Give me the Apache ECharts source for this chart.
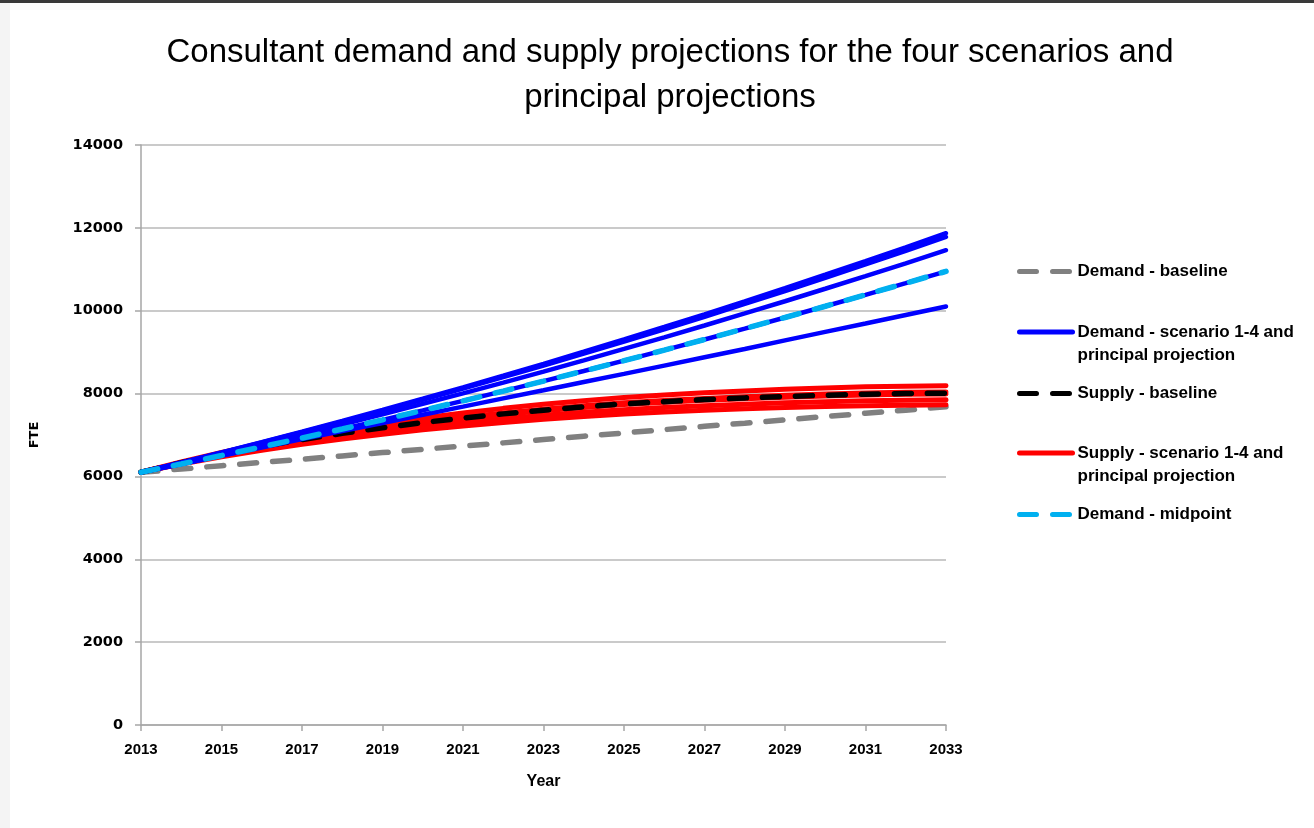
<!DOCTYPE html>
<html>
<head>
<meta charset="utf-8">
<style>
  html, body { margin: 0; padding: 0; background: #fff; }
  #topbar { position: absolute; left: 0; top: 0; width: 1314px; height: 3px; background: #3a3a3a; }
  #leftbar { position: absolute; left: 0; top: 3px; width: 10px; height: 825px; background: #f4f4f4; }
  #chart { position: absolute; left: 0; top: 0; width: 1314px; height: 828px; }
</style>
<script src="https://cdn.jsdelivr.net/npm/echarts@6/dist/echarts.min.js"></script>
</head>
<body>
<div id="topbar"></div>
<div id="leftbar"></div>
<div id="chart"></div>
<script>
const years = ['2013', '2014', '2015', '2016', '2017', '2018', '2019', '2020', '2021', '2022', '2023',
  '2024', '2025', '2026', '2027', '2028', '2029', '2030', '2031', '2032', '2033']

const demandBaseline = [6100, 6180, 6260, 6340, 6415, 6495, 6575, 6655, 6735, 6810, 6890,
  6970, 7050, 7130, 7210, 7285, 7365, 7445, 7525, 7600, 7680]

// scenarios 1-4 and principal projection
const demandScenarios = [
  [6100, 6338, 6581, 6829, 7083, 7342, 7606, 7876, 8151, 8432, 8717, 9009, 9305, 9607, 9914, 10227, 10545, 10868, 11197, 11531, 11870],
  [6100, 6334, 6573, 6818, 7067, 7323, 7582, 7848, 8119, 8395, 8676, 8963, 9255, 9552, 9854, 10163, 10475, 10794, 11117, 11446, 11780],
  [6100, 6321, 6546, 6777, 7013, 7254, 7499, 7750, 8005, 8266, 8531, 8802, 9077, 9358, 9643, 9934, 10229, 10530, 10835, 11145, 11460],
  [6100, 6300, 6504, 6713, 6926, 7144, 7366, 7593, 7824, 8060, 8300, 8545, 8794, 9048, 9306, 9569, 9836, 10108, 10384, 10665, 10950],
  [6100, 6300, 6500, 6700, 6900, 7095, 7290, 7490, 7685, 7885, 8080, 8280, 8475, 8675, 8875, 9075, 9285, 9490, 9690, 9895, 10100],
]

const supplyBaseline = [6100, 6330, 6540, 6725, 6890, 7040, 7175, 7300, 7410, 7510, 7600,
  7680, 7750, 7805, 7855, 7895, 7930, 7960, 7985, 8000, 8010]

const supplyScenarios = [
  [6100, 6352, 6581, 6784, 6964, 7128, 7276, 7413, 7533, 7643, 7741, 7829, 7905, 7965, 8020, 8064, 8102, 8135, 8162, 8179, 8190],
  [6100, 6334, 6547, 6735, 6903, 7055, 7192, 7319, 7431, 7533, 7624, 7705, 7776, 7832, 7883, 7924, 7959, 7990, 8015, 8030, 8040],
  [6100, 6328, 6536, 6719, 6882, 7031, 7165, 7288, 7397, 7496, 7585, 7664, 7734, 7788, 7837, 7877, 7912, 7941, 7966, 7981, 7990],
  [6100, 6311, 6503, 6673, 6824, 6961, 7086, 7199, 7300, 7392, 7474, 7547, 7612, 7662, 7708, 7744, 7776, 7804, 7827, 7840, 7850],
  [6100, 6296, 6475, 6633, 6774, 6902, 7017, 7124, 7217, 7303, 7380, 7448, 7508, 7554, 7597, 7631, 7661, 7687, 7708, 7721, 7730],
]

const demandMidpoint = [6100, 6300, 6504, 6713, 6926, 7144, 7366, 7593, 7824, 8060, 8300,
  8545, 8794, 9048, 9306, 9569, 9836, 10108, 10384, 10665, 10950]

const names = {
  demandBase: 'Demand - baseline',
  demandScen: 'Demand - scenario 1-4 and principal projection',
  supplyBase: 'Supply - baseline',
  supplyScen: 'Supply - scenario 1-4 and principal projection',
  demandMid: 'Demand - midpoint',
}

const legendOrder = [names.demandBase, names.demandScen, names.supplyBase, names.supplyScen, names.demandMid]
const legendTops = [260, 297.5, 382, 418.5, 503]

const sans = '"Liberation Sans", Arial, sans-serif'
const dash = [17, 16]

const lineSeries = (name, data, color, width, type) => ({
  name,
  type: 'line',
  data,
  symbol: 'none',
  silent: true,
  lineStyle: { color, width, type, cap: 'round' },
  itemStyle: { color },
  emphasis: { disabled: true },
})

const chart = echarts.init(document.getElementById('chart'))

chart.setOption({
  animation: false,
  title: {
    text: 'Consultant demand and supply projections for the four scenarios and\nprincipal projections',
    left: 665,
    textAlign: 'center',
    top: 25,
    textStyle: { fontFamily: sans, fontSize: 33, fontWeight: 'normal', color: '#000', lineHeight: 45 },
  },
  legend: legendOrder.map((n, i) => ({
    data: [n],
    left: 1017,
    top: legendTops[i],
    padding: 0,
    itemWidth: 53,
    itemHeight: 14,
    selectedMode: false,
    // a leading blank line keeps the icon level with the first line of text
    formatter: (nm) => (nm.indexOf('1-4 and ') >= 0 ? '\n' + nm.replace('1-4 and ', '1-4 and\n') : nm),
    itemStyle: { color: 'transparent', borderWidth: 0, opacity: 0 },
    lineStyle: { width: 5, cap: 'round' },
    textStyle: {
      fontFamily: sans,
      fontWeight: 'bold',
      fontSize: 17,
      color: '#000',
      lineHeight: 23,
    },
  })),
  grid: { left: 141, right: 368, top: 145, bottom: 103 },
  xAxis: {
    type: 'category',
    data: years,
    boundaryGap: false,
    name: 'Year',
    nameLocation: 'middle',
    nameGap: 49,
    nameTextStyle: { fontFamily: sans, fontWeight: 'bold', fontSize: 16, color: '#000' },
    axisLine: { lineStyle: { color: '#a6a6a6', width: 1.5 } },
    axisTick: { interval: 1, length: 6, lineStyle: { color: '#a6a6a6', width: 1.5 } },
    axisLabel: { interval: 1, margin: 17, fontFamily: sans, fontWeight: 'bold', fontSize: 15, color: '#000' },
    splitLine: { show: false },
  },
  yAxis: {
    type: 'value',
    min: 0,
    max: 14000,
    interval: 2000,
    name: 'FTE',
    nameLocation: 'middle',
    nameGap: 100,
    nameTextStyle: { fontFamily: '"DejaVu Sans", sans-serif', fontWeight: 'bold', fontSize: 13, color: '#000' },
    axisLine: { show: true, lineStyle: { color: '#a6a6a6', width: 1.5 } },
    axisTick: { show: true, length: 6, lineStyle: { color: '#a6a6a6', width: 1.5 } },
    axisLabel: {
      margin: 18,
      fontFamily: '"DejaVu Sans", sans-serif',
      fontWeight: 'bold',
      fontSize: 14.5,
      color: '#000',
      formatter: (v) => String(v),
    },
    splitLine: { lineStyle: { color: '#b8b8b8', width: 1.5 } },
  },
  series: [
    lineSeries(names.demandBase, demandBaseline, '#808080', 5.5, dash),
    ...supplyScenarios.map((d) => lineSeries(names.supplyScen, d, '#ff0000', 5, 'solid')),
    lineSeries(names.supplyBase, supplyBaseline, '#000000', 5.5, dash),
    ...demandScenarios.map((d) => lineSeries(names.demandScen, d, '#0000ff', 4.5, 'solid')),
    lineSeries(names.demandMid, demandMidpoint, '#00b0f0', 5.5, dash),
  ],
})
</script>
</body>
</html>
